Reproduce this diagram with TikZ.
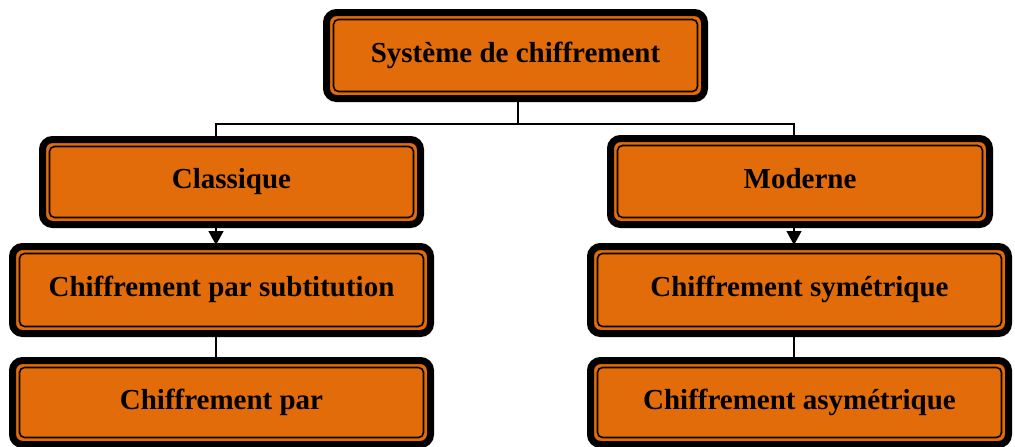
\documentclass[tikz,border=0pt]{standalone}
\usepackage{fontspec}
\setmainfont{Liberation Serif}
\usetikzlibrary{arrows.meta}
\definecolor{boxorange}{HTML}{E36C0A}
\newcommand\innerframe[1]{\draw[black,line width=1.6pt,rounded corners=5pt] ([shift={(7pt,-7pt)}]#1.north west) rectangle ([shift={(-7pt,7pt)}]#1.south east);}
\begin{document}
\begin{tikzpicture}[x=1pt,y=-1pt,
  boxst/.style={draw=black,line width=7pt,fill=boxorange,rounded corners=10pt,outer sep=0pt,inner sep=0pt,
    text height=20pt,text depth=7pt,
    font=\fontsize{29}{34}\selectfont\bfseries},
  conn/.style={draw=black,line width=1.3pt},
  arr/.style={conn,-{Triangle[length=14pt,width=15pt]}}]
\useasboundingbox (0,0) rectangle (1015,447);
\node[boxst,minimum width=378pt,minimum height=86pt] (top) at (515.5,55.5) {Système de chiffrement};
\node[boxst,minimum width=378pt,minimum height=85pt] (cls) at (231.5,182) {Classique};
\node[boxst,minimum width=379pt,minimum height=86pt] (mod) at (800,181.5) {Moderne};
\node[boxst,minimum width=418pt,minimum height=87pt] (sub) at (221.5,290) {Chiffrement par subtitution};
\node[boxst,minimum width=418pt,minimum height=84pt] (tra) at (221.5,402.5) {Chiffrement par};
\node[boxst,minimum width=418pt,minimum height=87pt] (sym) at (799.5,290) {Chiffrement symétrique};
\node[boxst,minimum width=418pt,minimum height=84pt] (asy) at (799.5,402.5) {Chiffrement asymétrique};
\foreach \n in {top,cls,mod,sub,tra,sym,asy}{\innerframe{\n}}
\coordinate (colL) at (216,0);
\coordinate (colR) at (794,0);
\coordinate (colT) at (518,0);
\coordinate (bus) at (0,124);
\draw[conn] ([yshift=-3.5pt]top.south -| colT) -- (bus -| colT);
\draw[conn] ([yshift=3.5pt]cls.north -| colL) |- (bus -| colT) -| ([yshift=3.5pt]mod.north -| colR);
\draw[arr] ([yshift=-3.5pt]cls.south -| colL) -- ([yshift=1.5pt]sub.north -| colL);
\draw[arr] ([yshift=-3.5pt]mod.south -| colR) -- ([yshift=1.5pt]sym.north -| colR);
\draw[conn] ([yshift=-3.5pt]sub.south -| colL) -- ([yshift=3.5pt]tra.north -| colL);
\draw[conn] ([yshift=-3.5pt]sym.south -| colR) -- ([yshift=3.5pt]asy.north -| colR);
\end{tikzpicture}
\end{document}
